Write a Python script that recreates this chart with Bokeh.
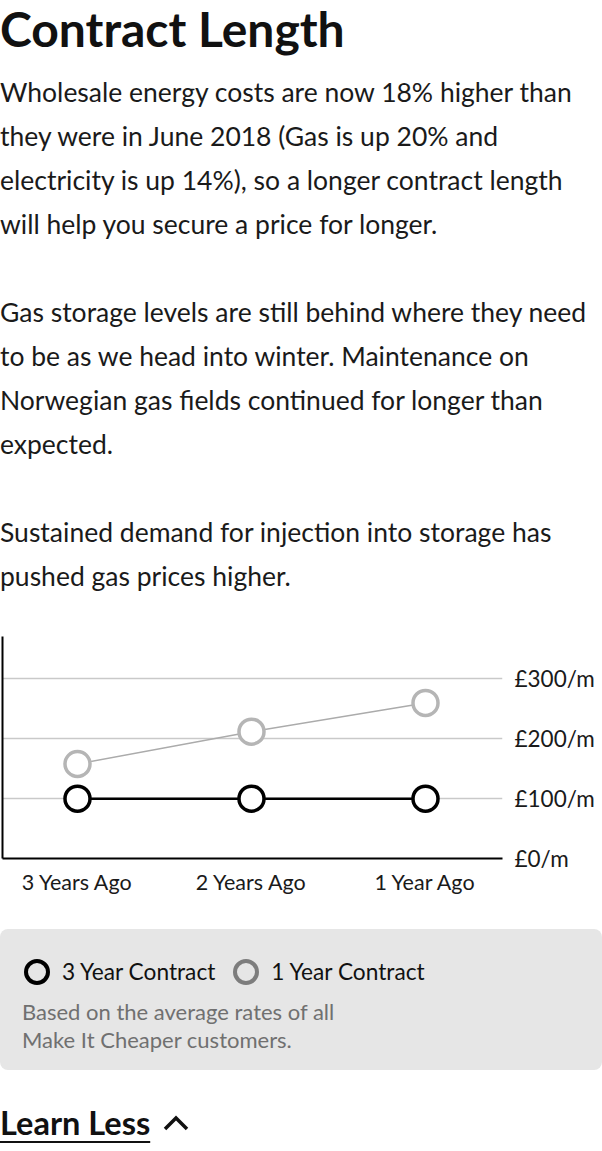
from bokeh.plotting import figure
from bokeh.models import (ColumnDataSource, Range1d, LinearAxis, FixedTicker, Div)
from bokeh.layouts import column
from bokeh.embed import file_html
from bokeh.resources import INLINE

# ---------------- data ----------------
categories = ["3 Years Ago", "2 Years Ago", "1 Year Ago"]
three_year_contract = [100, 100, 100]
one_year_contract = [158, 212, 260]
tick_values = [0, 100, 200, 300]
tick_labels = ["£0/m", "£100/m", "£200/m", "£300/m"]
series_names = ["3 Year Contract", "1 Year Contract"]

title_text = "Contract Length"
paragraphs = [
    ["Wholesale energy costs are now 18% higher than",
     "they were in June 2018 (Gas is up 20% and",
     "electricity is up 14%), so a longer contract length",
     "will help you secure a price for longer."],
    ["Gas storage levels are still behind where they need",
     "to be as we head into winter. Maintenance on",
     "Norwegian gas fields continued for longer than",
     "expected."],
    ["Sustained demand for injection into storage has",
     "pushed gas prices higher."],
]
note_lines = ["Based on the average rates of all", "Make It Cheaper customers."]
link_text = "Learn Less"

FONT = "Lato"
W = 602

# ---------------- text block ----------------
paras_html = ""
for i, para in enumerate(paragraphs):
    mt = 12 if i == 0 else 44
    paras_html += (f'<div style="margin:{mt}px 0 0 0;font-size:26.5px;line-height:44px;'
                   f'white-space:nowrap;color:#1a1a1a;">' + "<br>".join(para) + "</div>")
header_html = (f'<div style="font-family:{FONT};">'
               f'<div style="margin:0;font-size:48px;font-weight:bold;line-height:58px;color:#111;">{title_text}</div>'
               + paras_html + "</div>")
div_text = Div(text=header_html, width=W, height=620, margin=0, styles={"font-family": FONT})

# ---------------- chart ----------------
x_idx = list(range(len(categories)))
src = ColumnDataSource(dict(x=x_idx, three=three_year_contract, one=one_year_contract))

p = figure(width=W, height=282, output_backend="svg", toolbar_location=None,
           x_range=Range1d(-0.431, 2.4425), y_range=Range1d(0, 371),
           y_axis_location="right", min_border_left=2, min_border_right=100,
           min_border_top=16, min_border_bottom=44)
p.outline_line_color = None
p.background_fill_color = "white"
p.border_fill_color = "white"

# right (labelled) axis
ya = p.yaxis[0]
ya.ticker = FixedTicker(ticks=tick_values)
ya.major_label_overrides = dict(zip(tick_values, tick_labels))
ya.axis_line_color = None
ya.major_tick_line_color = None
ya.minor_tick_line_color = None
ya.major_tick_out = 0
ya.major_label_standoff = 12
ya.major_label_text_font = FONT
ya.major_label_text_font_size = "22.5px"
ya.major_label_text_color = "#1a1a1a"

# left plain axis line
left_axis = LinearAxis(ticker=FixedTicker(ticks=[]), axis_line_color="black", axis_line_width=2,
                       major_tick_line_color=None, minor_tick_line_color=None,
                       major_tick_out=0, major_tick_in=0, minor_tick_out=0, minor_tick_in=0,
                       major_label_standoff=0, major_label_text_font_size="0px")
p.add_layout(left_axis, "left")

# bottom axis
xa = p.xaxis[0]
xa.ticker = FixedTicker(ticks=x_idx)
xa.major_label_overrides = dict(zip(x_idx, categories))
xa.axis_line_color = "black"
xa.axis_line_width = 2
xa.major_tick_line_color = None
xa.minor_tick_line_color = None
xa.major_tick_out = 0
xa.major_label_standoff = 10
xa.major_label_text_font = FONT
xa.major_label_text_font_size = "21.5px"
xa.major_label_text_color = "#1a1a1a"

p.xgrid.visible = False
p.ygrid.ticker = FixedTicker(ticks=tick_values)
p.ygrid.grid_line_color = "#c9c9c9"
p.ygrid.grid_line_width = 1.5

p.line("x", "one", source=src, line_color="#ababab", line_width=1.5)
p.line("x", "three", source=src, line_color="black", line_width=2.5)
p.scatter("x", "one", source=src, size=25, marker="circle", fill_color="white",
          line_color="#b5b5b5", line_width=3.5)
p.scatter("x", "three", source=src, size=25, marker="circle", fill_color="white",
          line_color="black", line_width=3.5)

# ---------------- legend box ----------------
def circ(color):
    return (f'<span style="display:inline-block;box-sizing:border-box;width:26px;height:26px;'
            f'border:4px solid {color};border-radius:50%;vertical-align:middle;margin-right:12px;"></span>')

legend_html = (
    f'<div style="font-family:{FONT};margin-top:27px;width:{W}px;height:141px;box-sizing:border-box;'
    f'background:#e6e6e6;border-radius:8px;padding:26px 0 0 24px;">'
    f'<div style="font-size:22.7px;line-height:30px;color:#111;white-space:nowrap;">'
    f'{circ("#000")}<span style="vertical-align:middle;margin-right:18px;">{series_names[0]}</span>'
    f'{circ("#7d7d7d")}<span style="vertical-align:middle;">{series_names[1]}</span></div>'
    f'<div style="margin:11px 0 0 -2px;font-size:22px;line-height:28px;color:#707070;white-space:nowrap;">'
    + "<br>".join(note_lines) + "</div></div>")
div_legend = Div(text=legend_html, width=W, height=168, margin=0, styles={"font-family": FONT})

link_html = (
    f'<div style="font-family:{FONT};margin-top:35px;white-space:nowrap;">'
    f'<span style="font-size:32.5px;font-weight:bold;line-height:36px;color:#111;text-decoration:underline;'
    f'text-decoration-thickness:2px;text-underline-offset:6px;vertical-align:middle;">{link_text}</span>'
    f'<svg width="30" height="20" style="vertical-align:middle;margin-left:12px;">'
    f'<polyline points="3,16 14,5 25,16" fill="none" stroke="#111" stroke-width="3.5"/></svg></div>')
div_link = Div(text=link_html, width=W, height=78, margin=0, styles={"font-family": FONT})

layout = column(div_text, p, div_legend, div_link, spacing=0)
open("out.html", "w").write(file_html(layout, INLINE, "Contract Length"))
